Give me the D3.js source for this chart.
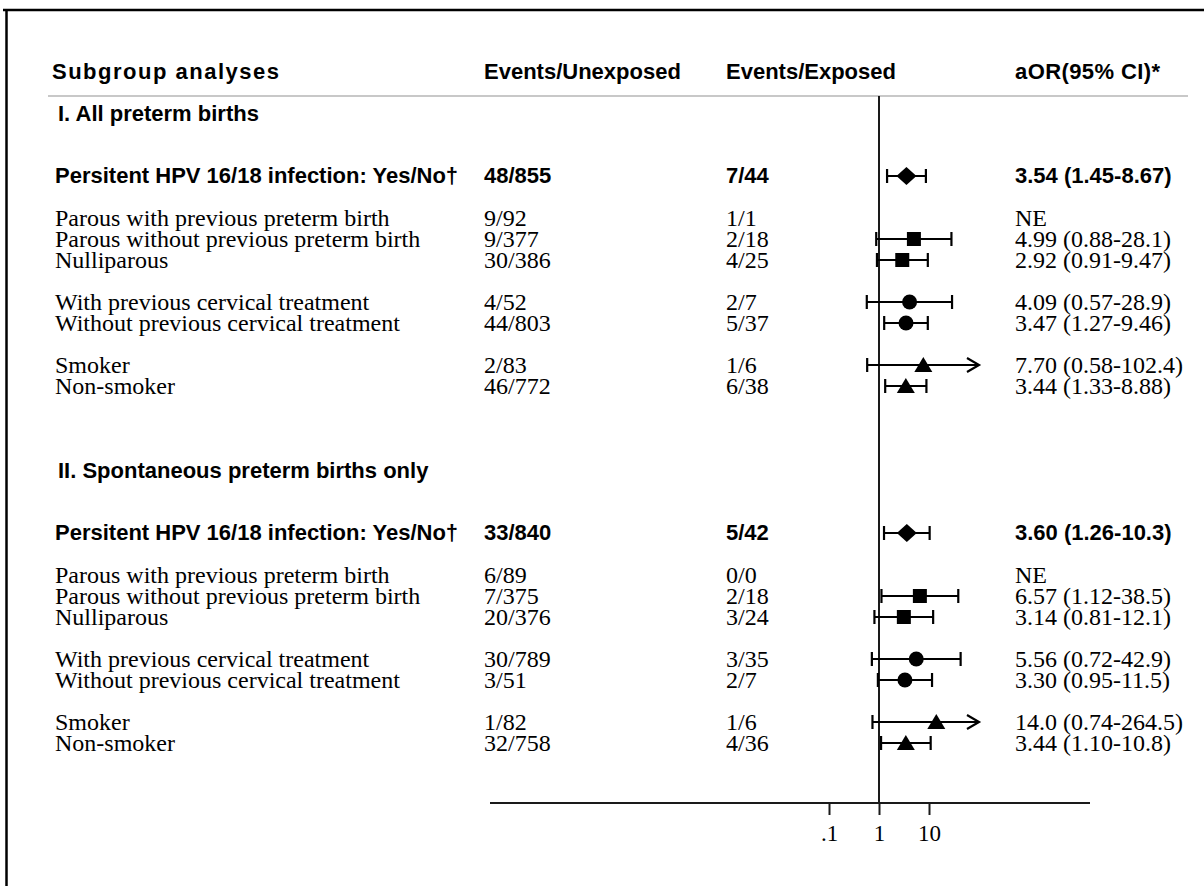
<!DOCTYPE html>
<html>
<head>
<meta charset="utf-8">
<script src="https://cdn.jsdelivr.net/npm/d3@7"></script>
<style>
  html, body { margin: 0; padding: 0; background: #fff; }
  svg { display: block; }
</style>
</head>
<body>
<svg id="chart" width="1204" height="886"></svg>
<script>
// ---------------- DATA ----------------
const headers = ["Subgroup analyses", "Events/Unexposed", "Events/Exposed", "aOR(95% CI)*"];
const sectionTitles = ["I. All preterm births", "II. Spontaneous preterm births only"];
const subgroups = [
  "Persitent HPV 16/18 infection: Yes/No\u2020",
  "Parous with previous preterm birth",
  "Parous without previous preterm birth",
  "Nulliparous",
  "With previous cervical treatment",
  "Without previous cervical treatment",
  "Smoker",
  "Non-smoker"
];
const markerTypes = ["diamond", null, "square", "square", "circle", "circle", "triangle", "triangle"];

// Section I
const unexposedI = ["48/855", "9/92", "9/377", "30/386", "4/52", "44/803", "2/83", "46/772"];
const exposedI   = ["7/44", "1/1", "2/18", "4/25", "2/7", "5/37", "1/6", "6/38"];
const orI  = [3.54, null, 4.99, 2.92, 4.09, 3.47, 7.70, 3.44];
const loI  = [1.45, null, 0.88, 0.91, 0.57, 1.27, 0.58, 1.33];
const hiI  = [8.67, null, 28.1, 9.47, 28.9, 9.46, 102.4, 8.88];
const ciTextI = ["3.54 (1.45-8.67)", "NE", "4.99 (0.88-28.1)", "2.92 (0.91-9.47)",
                 "4.09 (0.57-28.9)", "3.47 (1.27-9.46)", "7.70 (0.58-102.4)", "3.44 (1.33-8.88)"];

// Section II
const unexposedII = ["33/840", "6/89", "7/375", "20/376", "30/789", "3/51", "1/82", "32/758"];
const exposedII   = ["5/42", "0/0", "2/18", "3/24", "3/35", "2/7", "1/6", "4/36"];
const orII = [3.60, null, 6.57, 3.14, 5.56, 3.30, 14.0, 3.44];
const loII = [1.26, null, 1.12, 0.81, 0.72, 0.95, 0.74, 1.10];
const hiII = [10.3, null, 38.5, 12.1, 42.9, 11.5, 264.5, 10.8];
const ciTextII = ["3.60 (1.26-10.3)", "NE", "6.57 (1.12-38.5)", "3.14 (0.81-12.1)",
                  "5.56 (0.72-42.9)", "3.30 (0.95-11.5)", "14.0 (0.74-264.5)", "3.44 (1.10-10.8)"];

const tickValues = [0.1, 1, 10];
const tickLabels = [".1", "1", "10"];

// ---------------- LAYOUT ----------------
const SERIF = "'Liberation Serif', 'Times New Roman', serif";
const SANS = "'Liberation Sans', Arial, Helvetica, sans-serif";
const INK = "#000";
const LINE = "#1a1a1a";

const svg = d3.select("#chart");

const slotInSection = [0, 2, 3, 4, 6, 7, 9, 10];
const sectionOffset = [0, 17];
const titleSlot = [-3, 14];
const headerSlot = -5;

const y = d3.scaleLinear().domain([0, 27]).range([176, 743]);
const x = d3.scaleLog().domain([0.1, 10]).range([829, 929]);
const xMax = 100;

const colX = { label: 55, title: 58, unexp: 484, exp: 726, ci: 1015 };

// frame
svg.append("line").attr("x1", 3).attr("x2", 1204).attr("y1", 10).attr("y2", 10)
  .attr("stroke", "#000").attr("stroke-width", 2.5);
svg.append("line").attr("x1", 6.5).attr("x2", 6.5).attr("y1", 9).attr("y2", 886)
  .attr("stroke", "#000").attr("stroke-width", 2.5);

// header
const hdrY = y(headerSlot);
const hdrX = [52, colX.unexp, colX.exp, colX.ci];
const hdrSpacing = [1.5, 0, 0, 0.4];
svg.selectAll("text.hdr").data(headers).enter().append("text")
  .attr("class", "hdr")
  .attr("x", (d, i) => hdrX[i]).attr("y", hdrY).attr("dy", "0.35em")
  .attr("letter-spacing", (d, i) => hdrSpacing[i])
  .attr("font-family", SANS).attr("font-weight", "bold").attr("font-size", 22)
  .attr("fill", INK).text(d => d);

svg.append("line").attr("x1", 48).attr("x2", 1188).attr("y1", 96).attr("y2", 96)
  .attr("stroke", "#c8c8c8").attr("stroke-width", 2);

// axis
const axisY = 803;
svg.append("line").attr("x1", x(1)).attr("x2", x(1)).attr("y1", 96).attr("y2", axisY)
  .attr("stroke", LINE).attr("stroke-width", 2);

svg.append("line").attr("x1", 490).attr("x2", 1090).attr("y1", axisY).attr("y2", axisY)
  .attr("stroke", LINE).attr("stroke-width", 2);

const axisG = svg.append("g").attr("transform", `translate(0,${axisY})`);
const axis = d3.axisBottom(x).tickValues(tickValues)
  .tickFormat((d, i) => tickLabels[i]).tickSize(12).tickPadding(10);
axisG.call(axis);
axisG.select(".domain").remove();
axisG.selectAll(".tick line").attr("stroke", LINE).attr("stroke-width", 2);
axisG.selectAll(".tick text").attr("font-family", SERIF).attr("font-size", 23).attr("fill", INK);

// sections
const sections = [
  { un: unexposedI, ex: exposedI, or: orI, lo: loI, hi: hiI, ci: ciTextI },
  { un: unexposedII, ex: exposedII, or: orII, lo: loII, hi: hiII, ci: ciTextII }
];

const markerPath = {
  diamond: "M-10,0L0,-9L10,0L0,9Z",
  square: "M-7,-7H7V7H-7Z",
  triangle: "M0,-8L9,7L-9,7Z"
};

sections.forEach((sec, s) => {
  const g = svg.append("g");
  g.append("text").attr("x", colX.title).attr("y", y(titleSlot[s])).attr("dy", "0.35em")
    .attr("font-family", SANS).attr("font-weight", "bold").attr("font-size", 22)
    .attr("fill", INK).text(sectionTitles[s]);

  const rows = subgroups.map((lab, i) => ({
    lab, i, un: sec.un[i], ex: sec.ex[i], or: sec.or[i], lo: sec.lo[i], hi: sec.hi[i],
    ci: sec.ci[i], mk: markerTypes[i], yy: y(sectionOffset[s] + slotInSection[i])
  }));

  rows.forEach(r => {
    const bold = r.i === 0;
    const font = bold ? SANS : SERIF;
    const size = bold ? 22 : 24;
    const weight = bold ? "bold" : "normal";
    [[colX.label, r.lab], [colX.unexp, r.un], [colX.exp, r.ex], [colX.ci, r.ci]].forEach(([cx, t]) => {
      g.append("text").attr("x", cx).attr("y", r.yy).attr("dy", "0.33em")
        .attr("font-family", font).attr("font-weight", weight).attr("font-size", size)
        .attr("fill", INK).text(t);
    });

    if (r.or == null) return;
    const x0 = x(r.lo);
    const clipped = r.hi > xMax;
    const x1 = clipped ? x(xMax) : x(r.hi);
    g.append("line").attr("x1", x0).attr("x2", x1).attr("y1", r.yy).attr("y2", r.yy)
      .attr("stroke", INK).attr("stroke-width", 2.2);
    g.append("line").attr("x1", x0).attr("x2", x0).attr("y1", r.yy - 7).attr("y2", r.yy + 7)
      .attr("stroke", INK).attr("stroke-width", 2.2);
    if (clipped) {
      g.append("path")
        .attr("d", `M${x1 - 12},${r.yy - 7}L${x1},${r.yy}L${x1 - 12},${r.yy + 7}`)
        .attr("fill", "none").attr("stroke", INK).attr("stroke-width", 2.2);
    } else {
      g.append("line").attr("x1", x1).attr("x2", x1).attr("y1", r.yy - 7).attr("y2", r.yy + 7)
        .attr("stroke", INK).attr("stroke-width", 2.2);
    }
    const px = x(r.or);
    if (r.mk === "circle") {
      g.append("circle").attr("cx", px).attr("cy", r.yy).attr("r", 7.5).attr("fill", INK);
    } else {
      g.append("path").attr("d", markerPath[r.mk])
        .attr("transform", `translate(${px},${r.yy})`).attr("fill", INK);
    }
  });
});
</script>
</body>
</html>
